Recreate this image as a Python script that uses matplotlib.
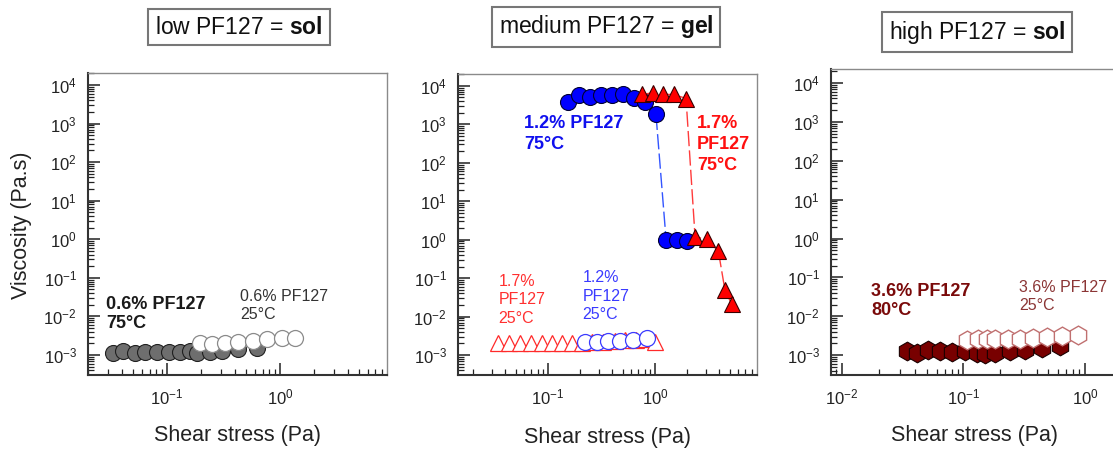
import numpy as np
import matplotlib
matplotlib.use('Agg')
import matplotlib.pyplot as plt
from matplotlib.ticker import LogLocator, FuncFormatter, NullFormatter

# Police type Arial (Liberation Sans) pour le texte et les exposants
plt.rcParams['font.family'] = ['Liberation Sans', 'DejaVu Sans']
plt.rcParams['mathtext.fontset'] = 'custom'
plt.rcParams['mathtext.rm'] = 'Liberation Sans'
plt.rcParams['mathtext.it'] = 'Liberation Sans:italic'
plt.rcParams['mathtext.bf'] = 'Liberation Sans:bold'

# Panneau 1 : 0.6% PF127
low_hot_x = [0.0335, 0.041, 0.052, 0.064, 0.081, 0.103, 0.130, 0.160, 0.183, 0.240, 0.305, 0.428, 0.622]
low_hot_y = [1.15e-3, 1.25e-3, 1.1e-3, 1.2e-3, 1.2e-3, 1.2e-3, 1.2e-3, 1.3e-3, 1.1e-3, 1.2e-3, 1.3e-3, 1.45e-3, 1.55e-3]
low_cold_x = [0.196, 0.249, 0.326, 0.428, 0.581, 0.762, 1.035, 1.358]
low_cold_y = [2.0e-3, 1.93e-3, 2.0e-3, 2.13e-3, 2.34e-3, 2.64e-3, 2.8e-3, 2.8e-3]

# Panneau 2 : 1.2% et 1.7% PF127
med12_hot_x = [0.155, 0.196, 0.247, 0.311, 0.394, 0.506, 0.641, 0.807, 1.02, 1.27, 1.59, 2.0]
med12_hot_y = [3.9e3, 5.7e3, 5.1e3, 5.7e3, 5.7e3, 6.0e3, 4.9e3, 3.9e3, 1.9e3, 1.0, 1.0, 0.9]
med17_hot_x = [0.751, 0.953, 1.20, 1.51, 1.95, 2.37, 3.04, 3.91, 4.51, 5.21]
med17_hot_y = [6.0e3, 6.6e3, 6.0e3, 6.0e3, 4.7e3, 1.16, 1.05, 0.50, 0.048, 0.021]
med17_cold_x = [0.0343, 0.0435, 0.0547, 0.0693, 0.0873, 0.108, 0.134, 0.167,
                0.21, 0.26, 0.33, 0.42, 0.53, 0.66, 0.82, 1.0]
med17_cold_y = [2.1e-3, 2.1e-3, 2.1e-3, 2.1e-3, 2.1e-3, 2.1e-3, 2.1e-3, 2.1e-3,
                2.1e-3, 2.15e-3, 2.2e-3, 2.3e-3, 2.4e-3, 2.5e-3, 2.6e-3, 2.2e-3]
med12_cold_x = [0.222, 0.285, 0.366, 0.471, 0.627, 0.836]
med12_cold_y = [2.14e-3, 2.22e-3, 2.32e-3, 2.36e-3, 2.46e-3, 2.72e-3]

# Panneau 3 : 3.6% PF127
high_hot_x = [0.0341, 0.0412, 0.0513, 0.0641, 0.080, 0.103, 0.128, 0.150, 0.182, 0.242, 0.321, 0.440, 0.622]
high_hot_y = [1.27e-3, 1.15e-3, 1.35e-3, 1.27e-3, 1.22e-3, 1.29e-3, 1.17e-3, 1.1e-3, 1.15e-3, 1.27e-3, 1.35e-3, 1.49e-3, 1.7e-3]
high_cold_x = [0.106, 0.132, 0.155, 0.182, 0.234, 0.292, 0.375, 0.484, 0.643, 0.881]
high_cold_y = [2.43e-3, 2.54e-3, 2.54e-3, 2.54e-3, 2.54e-3, 2.54e-3, 2.69e-3, 2.85e-3, 3.08e-3, 3.27e-3]

titles = ['low PF127 = $\\mathbf{sol}$', 'medium PF127 = $\\mathbf{gel}$', 'high PF127 = $\\mathbf{sol}$']

W, H = 1113, 450
fig = plt.figure(figsize=(W / 100, H / 100), dpi=100)


def px_axes(left, top, right, bottom):
    # axes placé en pixels (origine en haut à gauche)
    return fig.add_axes([left / W, 1 - bottom / H, (right - left) / W, (bottom - top) / H])


def style(ax):
    ax.set_xscale('log')
    ax.set_yscale('log')
    fmt = FuncFormatter(lambda v, p: '$10^{%d}$' % round(np.log10(v)))
    for axis in (ax.xaxis, ax.yaxis):
        axis.set_major_locator(LogLocator(base=10, numticks=20))
        axis.set_minor_locator(LogLocator(base=10, subs=np.arange(2, 10), numticks=20))
        axis.set_major_formatter(fmt)
        axis.set_minor_formatter(NullFormatter())
    ax.tick_params(which='both', direction='in', colors='#222222', labelsize=12)
    ax.tick_params(which='major', length=8.5, width=1.1)
    ax.tick_params(which='minor', length=4.5, width=0.9)
    ax.tick_params(axis='x', pad=9)
    ax.tick_params(axis='y', pad=8)
    for s in ('left', 'bottom'):
        ax.spines[s].set_color('#333333')
        ax.spines[s].set_linewidth(1.5)
    for s in ('top', 'right'):
        ax.spines[s].set_color('#8a8a8a')
        ax.spines[s].set_linewidth(1.0)


ax1 = px_axes(88, 73, 387, 375)
ax2 = px_axes(458, 74, 757, 375)
ax3 = px_axes(831, 69, 1130, 375)
for ax in (ax1, ax2, ax3):
    style(ax)

ax1.set_xlim(10 ** -1.70, 10 ** 0.947)
ax1.set_ylim(10 ** -3.52, 10 ** 4.31)
ax2.set_xlim(10 ** -1.84, 10 ** 0.953)
ax2.set_ylim(10 ** -3.52, 10 ** 4.31)
ax3.set_xlim(10 ** -2.09, 10 ** 0.37)
ax3.set_ylim(10 ** -3.51, 10 ** 4.36)

# Panneau 1
ax1.plot(low_hot_x, low_hot_y, 'o', ms=11.5, mfc='#6e6e6e', mec='#202020', mew=0.8)
ax1.plot(low_cold_x, low_cold_y, 'o', ms=11.5, mfc='white', mec='#8a8a8a', mew=0.9)
ax1.text(0.060, 0.262, '0.6% PF127\n75°C', transform=ax1.transAxes, fontsize=13,
         fontweight='bold', color='#1a1a1a', va='top', linespacing=1.2)
ax1.text(0.508, 0.285, '0.6% PF127\n25°C', transform=ax1.transAxes, fontsize=11.5,
         color='#333333', va='top', linespacing=1.25)

# Panneau 2
ax2.plot(med17_cold_x, med17_cold_y, '^', ms=11, mfc='white', mec='#ff2a2a', mew=0.9)
ax2.plot(med12_cold_x, med12_cold_y, 'o', ms=11.5, mfc='white', mec='#3a3aff', mew=0.9)
ax2.plot(med12_hot_x, med12_hot_y, ls=(0, (11, 3)), color='#3355ff', lw=1,
         marker='o', ms=11.5, mfc='#0000ff', mec='#000033', mew=0.8)
ax2.plot(med17_hot_x, med17_hot_y, ls=(0, (11, 3)), color='#ff3b3b', lw=1,
         marker='^', ms=11, mfc='#ff0000', mec='#3a0000', mew=0.8)
ax2.text(0.221, 0.864, '1.2% PF127\n75°C', transform=ax2.transAxes, fontsize=13,
         fontweight='bold', color='#1010ee', va='top', linespacing=1.3)
ax2.text(0.800, 0.864, '1.7%\nPF127\n75°C', transform=ax2.transAxes, fontsize=13,
         fontweight='bold', color='#ff1010', va='top', linespacing=1.3)
ax2.text(0.135, 0.337, '1.7%\nPF127\n25°C', transform=ax2.transAxes, fontsize=11.5,
         color='#ff3030', va='top', linespacing=1.3)
ax2.text(0.417, 0.349, '1.2%\nPF127\n25°C', transform=ax2.transAxes, fontsize=11.5,
         color='#3a3aff', va='top', linespacing=1.3)

# Panneau 3
ax3.plot(high_hot_x, high_hot_y, 'h', ms=13.5, mfc='#780000', mec='#1a0000', mew=0.8)
ax3.plot(high_cold_x, high_cold_y, 'h', ms=13.5, mfc='white', mec='#c07070', mew=1.0)
ax3.text(0.134, 0.301, '3.6% PF127\n80°C', transform=ax3.transAxes, fontsize=13,
         fontweight='bold', color='#7a0a0a', va='top', linespacing=1.2)
ax3.text(0.630, 0.310, '3.6% PF127\n25°C', transform=ax3.transAxes, fontsize=11.5,
         color='#8b3535', va='top', linespacing=1.25)

# Titres encadrés
for (cx, cy), t in zip([(239, 27), (606, 27), (977, 32)], titles):
    fig.text(cx / W, 1 - cy / H, t, ha='center', va='center', fontsize=16.5, color='#111111',
             bbox=dict(boxstyle='square,pad=0.3', fc='white', ec='#777777', lw=1.5))

# Titres des axes
for cx, cy in [(238, 435), (608, 437), (975, 435)]:
    fig.text(cx / W, 1 - cy / H, 'Shear stress (Pa)', ha='center', va='center',
             fontsize=15.5, color='#222222')
fig.text(22 / W, 1 - 225 / H, 'Viscosity (Pa.s)', rotation=90, ha='center', va='center',
         fontsize=15.5, color='#222222')

fig.savefig('out.png', dpi=100)
